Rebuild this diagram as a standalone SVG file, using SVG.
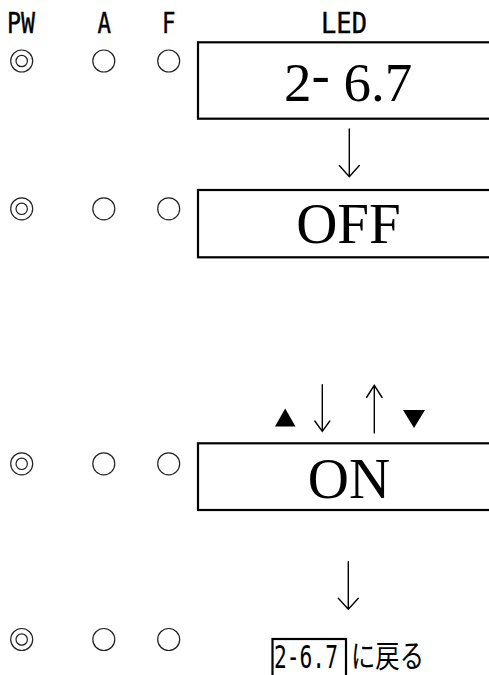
<svg xmlns="http://www.w3.org/2000/svg" width="489" height="675" viewBox="0 0 489 675">
<defs>
<style>
.bg{fill:#fff}
.box{fill:none;stroke:#000;stroke-width:2.2}
.ring{fill:none;stroke:#222;stroke-width:1.2}
.hdr{font-family:"DejaVu Sans Mono","Liberation Mono",monospace;font-size:28px;fill:#000;stroke:#000;stroke-width:0.4}
.note{font-family:"DejaVu Sans Mono","Liberation Mono",monospace;font-size:32px;fill:#000}
.big{font-family:"Liberation Serif","Times New Roman",serif;fill:#000}
.jp{font-family:"Noto Sans CJK JP","Noto Sans",sans-serif;font-size:31px;fill:#000}
.ln{fill:none;stroke:#000;stroke-width:1.4;stroke-linecap:round;stroke-linejoin:miter}
</style>
</defs>
<rect class="bg" x="0" y="0" width="489" height="675"/>
<g id="headers">
<text class="hdr" x="7" y="33" textLength="28" lengthAdjust="spacingAndGlyphs">PW</text>
<text class="hdr" x="97.5" y="33" textLength="13.5" lengthAdjust="spacingAndGlyphs">A</text>
<text class="hdr" x="162" y="33" textLength="13.5" lengthAdjust="spacingAndGlyphs">F</text>
<text class="hdr" x="321" y="33" textLength="46" lengthAdjust="spacingAndGlyphs">LED</text>
</g>
<g id="row1-lamps">
<circle class="ring" cx="21.7" cy="61" r="11"/><circle class="ring" cx="21.7" cy="61" r="5.7"/>
<circle class="ring" cx="103.8" cy="61" r="11"/>
<circle class="ring" cx="168.7" cy="61" r="11"/>
</g>
<g id="row2-lamps">
<circle class="ring" cx="21.7" cy="208.8" r="11"/><circle class="ring" cx="21.7" cy="208.8" r="5.7"/>
<circle class="ring" cx="103.8" cy="208.8" r="11"/>
<circle class="ring" cx="168.7" cy="208.8" r="11"/>
</g>
<g id="row3-lamps">
<circle class="ring" cx="21.7" cy="463.8" r="11"/><circle class="ring" cx="21.7" cy="463.8" r="5.7"/>
<circle class="ring" cx="103.8" cy="463.8" r="11"/>
<circle class="ring" cx="168.7" cy="463.8" r="11"/>
</g>
<g id="row4-lamps">
<circle class="ring" cx="21.7" cy="639.5" r="11"/><circle class="ring" cx="21.7" cy="639.5" r="5.7"/>
<circle class="ring" cx="103.8" cy="639.5" r="11"/>
<circle class="ring" cx="168.7" cy="639.5" r="11"/>
</g>
<g id="led-267">
<rect class="box" x="198" y="42.3" width="300" height="76.4"/>
<text class="big" x="284" y="101" font-size="55">2<tspan dy="-8">-</tspan><tspan dy="8"> 6.7</tspan></text>
</g>
<g id="led-off">
<rect class="box" x="198" y="190" width="300" height="67.3"/>
<text class="big" x="348.5" y="243" font-size="57" text-anchor="middle">OFF</text>
</g>
<g id="led-on">
<rect class="box" x="198" y="443.3" width="300" height="66.7"/>
<text class="big" x="349" y="498" font-size="57" text-anchor="middle">ON</text>
</g>
<g id="return-note">
<rect class="box" x="272.5" y="639" width="73.5" height="60" stroke-width="2"/>
<text class="note" transform="translate(274,667.5) scale(0.664,1)" x="0" y="0">2-6.7</text>
<text class="jp" x="351" y="667" textLength="73" lengthAdjust="spacingAndGlyphs">に戻る</text>
</g>
<g id="connectors">
<path class="ln" d="M349.3 129 V176.7 M339.3 165.5 L349.3 176.7 L359.3 165.5"/>
<path class="ln" d="M322.3 384.7 V431.3 M314.8 421 L322.3 431.3 L329.8 421"/>
<path class="ln" d="M374.3 433 V385.3 M366.5 397.5 L374.3 385.3 L382.1 397.5"/>
<polygon points="275,426.5 295.5,426.5 285.2,408.5" fill="#000"/>
<polygon points="403,410 425,410 414,428" fill="#000"/>
<path class="ln" d="M348.3 561.7 V609.3 M338.3 598.3 L348.3 609.3 L358.3 598.3"/>
</g>
</svg>
